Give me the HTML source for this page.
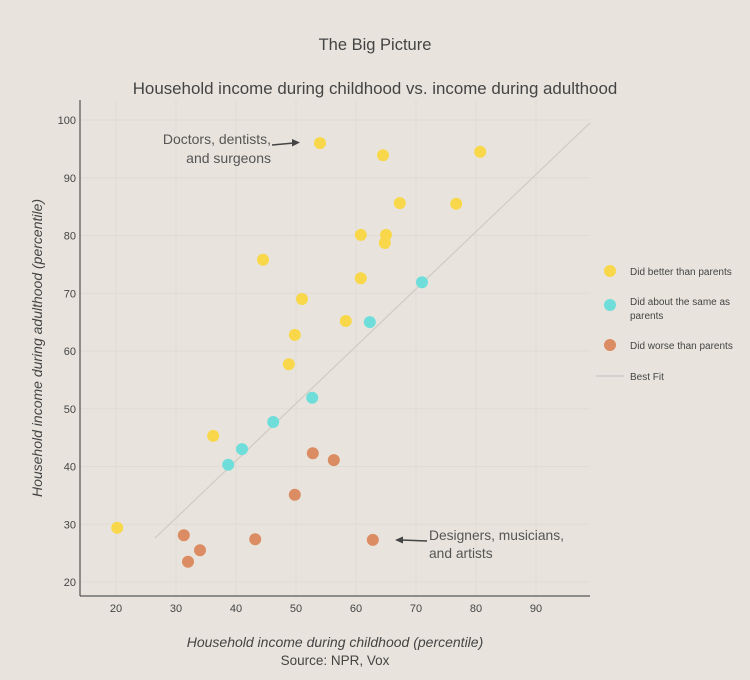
<!DOCTYPE html>
<html><head><meta charset="utf-8"><style>
body{margin:0;background:#e8e4dd;font-family:"Liberation Sans",sans-serif;}
svg text{font-family:"Liberation Sans",sans-serif;}
</style></head><body>
<svg id="c" width="750" height="675" xmlns="http://www.w3.org/2000/svg">
<rect width="750" height="675" fill="#e8e4dd"/>
<text x="375" y="50" text-anchor="middle" font-size="16.5" fill="#444">The Big Picture</text>
<text x="375" y="94" text-anchor="middle" font-size="16.9" fill="#444">Household income during childhood vs. income during adulthood</text>
<g id="grid"></g><g id="fit"></g><g id="pts"></g><g id="ticks"></g>
<line x1="80" y1="100" x2="80" y2="596" stroke="#333"/>
<line x1="80" y1="596" x2="590" y2="596" stroke="#333"/>
<text x="335" y="647" text-anchor="middle" font-size="14" font-style="italic" fill="#444">Household income during childhood (percentile)</text>
<text x="335" y="665" text-anchor="middle" font-size="13.5" fill="#444">Source: NPR, Vox</text>
<text transform="translate(42,348) rotate(-90)" text-anchor="middle" font-size="14" font-style="italic" fill="#444">Household income during adulthood (percentile)</text>
<g>
<text x="271" y="144" text-anchor="end" font-size="14" fill="#555">Doctors, dentists,</text>
<text x="271" y="163" text-anchor="end" font-size="14" fill="#555">and surgeons</text>
<line x1="272" y1="145" x2="294" y2="143" stroke="#444" stroke-width="1.5"/>
<polygon points="300,142.5 292,139 292,146.5" fill="#444"/>
</g>
<g>
<text x="429" y="540" font-size="13.8" fill="#555">Designers, musicians,</text>
<text x="429" y="558" font-size="13.8" fill="#555">and artists</text>
<line x1="427" y1="541" x2="401" y2="540" stroke="#444" stroke-width="1.5"/>
<polygon points="395,540 403,536.5 403,543.5" fill="#444"/>
</g>
<g>
<circle cx="610" cy="271" r="6" fill="#f8d84a"/>
<text x="630" y="275" font-size="10" fill="#444">Did better than parents</text>
<circle cx="610" cy="305" r="6" fill="#6fdedb"/>
<text x="630" y="305" font-size="10" fill="#444">Did about the same as</text>
<text x="630" y="319" font-size="10" fill="#444">parents</text>
<circle cx="610" cy="345" r="6" fill="#dc8c62"/>
<text x="630" y="349" font-size="10" fill="#444">Did worse than parents</text>
<line x1="596" y1="376" x2="624" y2="376" stroke="#ccc" stroke-width="1.5"/>
<text x="630" y="380" font-size="10" fill="#444">Best Fit</text>
</g>
</svg>
<script>
const xTicks=[20,30,40,50,60,70,80,90];
const yTicks=[20,30,40,50,60,70,80,90,100];
const betterX=[54,64.5,80.7,67.3,76.7,60.8,65,64.8,44.5,60.8,51,58.3,49.8,48.8,36.2,20.2];
const betterY=[96,93.9,94.5,85.6,85.5,80.1,80.1,78.7,75.8,72.6,69,65.2,62.8,57.7,45.3,29.4];
const sameX=[71,62.3,52.7,46.2,41,38.7];
const sameY=[71.9,65,51.9,47.7,43,40.3];
const worseX=[52.8,56.3,49.8,31.3,34,32,43.2,62.8];
const worseY=[42.3,41.1,35.1,28.1,25.5,23.5,27.4,27.3];
const fitX=[26.5,99];
const fitY=[27.6,99.5];
const sx=v=>-4+6*v, sy=v=>582-(v-20)*5.775;
const NS="http://www.w3.org/2000/svg";
function mk(p,t,a){const e=document.createElementNS(NS,t);for(const k in a)e.setAttribute(k,a[k]);document.getElementById(p).appendChild(e);return e;}
xTicks.forEach(t=>{
 const l=mk('grid','line',{x1:sx(t),x2:sx(t),y1:100,y2:596,stroke:'#e0dcd5'});
 
 
 const tx=mk('ticks','text',{x:sx(t),y:612,'text-anchor':'middle','font-size':11,fill:'#444'});tx.textContent=t;
 
 
});
yTicks.forEach(t=>{
 const l=mk('grid','line',{x1:80,x2:590,y1:sy(t),y2:sy(t),stroke:'#e0dcd5'});
 
 
 const tx=mk('ticks','text',{x:76,y:sy(t)+4,'text-anchor':'end','font-size':11,fill:'#444'});tx.textContent=t;
 
 
});
const fl=mk('fit','line',{x1:sx(fitX[0]),y1:sy(fitY[0]),x2:sx(fitX[1]),y2:sy(fitY[1]),stroke:'#cfcbc4','stroke-width':1.2});


function series(xs,ys,col,name){xs.forEach((x,i)=>{
 const c=mk('pts','circle',{cx:sx(x),cy:sy(ys[i]),r:6,fill:col});
 
 
});}
series(betterX,betterY,'#f8d84a','point-better');
series(sameX,sameY,'#6fdedb','point-same');
series(worseX,worseY,'#dc8c62','point-worse');
</script>
</body></html>
